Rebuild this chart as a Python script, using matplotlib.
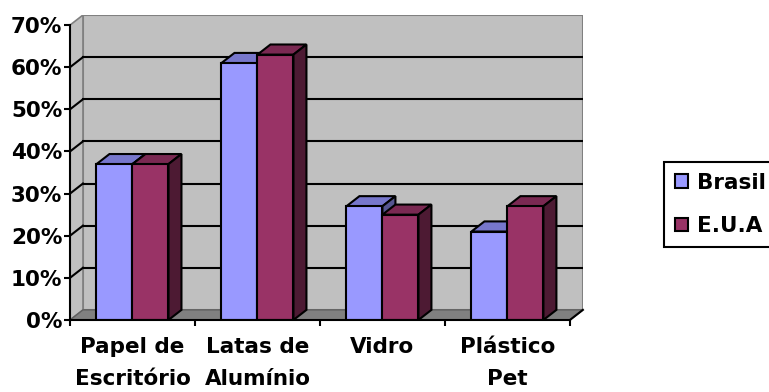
import matplotlib.pyplot as plt
from matplotlib.patches import Polygon, Patch

categories = ["Papel de\nEscritório", "Latas de\nAlumínio", "Vidro", "Plástico\nPet"]
brasil = [37, 61, 27, 21]
eua = [37, 63, 25, 27]
series_names = ["Brasil", "E.U.A"]

# colours: front, top, side
colors = {
    "Brasil": ("#9999FF", "#7777CC", "#555590"),
    "E.U.A": ("#993366", "#7A2952", "#4D1A33"),
}

plt.rcParams['font.family'] = ['DejaVu Sans']
plt.rcParams['font.weight'] = 'bold'

DX, DY = 0.104, 2.4   # depth offset of the 3D box
BW = 0.288            # bar width in category units
YMAX = 70
FS = 15.5

fig = plt.figure(figsize=(7.69, 3.92), dpi=100)
ax = fig.add_axes([0.091, 0.1837, 0.667, 0.778])
ax.set_xlim(-0.5, len(categories) - 0.5 + DX)
ax.set_ylim(0, YMAX + DY)
ax.patch.set_visible(False)

x0, x1 = -0.5, len(categories) - 0.5

# walls and floor
ax.add_patch(Polygon([(x0 + DX, DY), (x1 + DX, DY), (x1 + DX, YMAX + DY), (x0 + DX, YMAX + DY)],
                     facecolor="#C0C0C0", edgecolor="#808080", lw=1.5, zorder=0))
ax.add_patch(Polygon([(x0, 0), (x0 + DX, DY), (x0 + DX, YMAX + DY), (x0, YMAX)],
                     facecolor="#C0C0C0", edgecolor="#808080", lw=1.2, zorder=0))
ax.add_patch(Polygon([(x0, 0), (x1, 0), (x1 + DX, DY), (x0 + DX, DY)],
                     facecolor="#808080", edgecolor="#606060", lw=1, zorder=0.5))

# gridlines on the back and left walls
for v in range(10, YMAX, 10):
    ax.plot([x0 + DX, x1 + DX], [v + DY, v + DY], color="black", lw=1.5, zorder=1)
    ax.plot([x0, x0 + DX], [v, v + DY], color="black", lw=1.5, zorder=1)
ax.plot([x1, x1 + DX], [0, DY], color="black", lw=1.5, zorder=1, clip_on=False)


def draw_bars(offset, values, name):
    front, top, side = colors[name]
    xs = [i + offset for i in range(len(values))]
    ax.bar(xs, values, width=BW, align="edge", color=front, edgecolor="black",
           linewidth=1.5, zorder=3)
    for x, v in zip(xs, values):
        ax.add_patch(Polygon([(x, v), (x + BW, v), (x + BW + DX, v + DY), (x + DX, v + DY)],
                             facecolor=top, edgecolor="black", lw=1.5, zorder=2.9))
        ax.add_patch(Polygon([(x + BW, 0), (x + BW + DX, DY), (x + BW + DX, v + DY), (x + BW, v)],
                             facecolor=side, edgecolor="black", lw=1.5, zorder=2.9))


draw_bars(-BW, brasil, "Brasil")
draw_bars(0, eua, "E.U.A")

# axes
for s in ["top", "right"]:
    ax.spines[s].set_visible(False)
ax.spines["left"].set_bounds(0, YMAX)
ax.spines["bottom"].set_bounds(x0, x1)
for s in ["left", "bottom"]:
    ax.spines[s].set_linewidth(1.5)
    ax.spines[s].set_zorder(4)

ax.set_yticks(range(0, YMAX + 1, 10))
ax.set_yticklabels([f"{v}%" for v in range(0, YMAX + 1, 10)], fontsize=FS, fontweight="bold")
ax.tick_params(axis="y", direction="out", length=4.5, width=1.5, pad=1)

ax.set_xticks(range(len(categories)))
ax.set_xticklabels(categories, fontsize=FS, fontweight="bold", linespacing=1.8)
ax.set_xticks([i - 0.5 for i in range(len(categories) + 1)], minor=True)
ax.tick_params(axis="x", which="major", length=0, pad=12)
ax.tick_params(axis="x", which="minor", direction="out", length=4.5, width=1.5)

handles = [Patch(facecolor=colors[n][0], edgecolor="black", linewidth=1.5) for n in series_names]
leg = fig.legend(handles, series_names, loc="upper left", bbox_to_anchor=(0.8635, 0.5867),
                 fancybox=False, edgecolor="black", framealpha=1,
                 handlelength=0.6, handleheight=0.6, handletextpad=0.45, labelspacing=1.08,
                 borderpad=0.5, borderaxespad=0, prop={"weight": "bold", "size": FS})
leg.get_frame().set_linewidth(1.5)

fig.savefig("out.png", dpi=100)
